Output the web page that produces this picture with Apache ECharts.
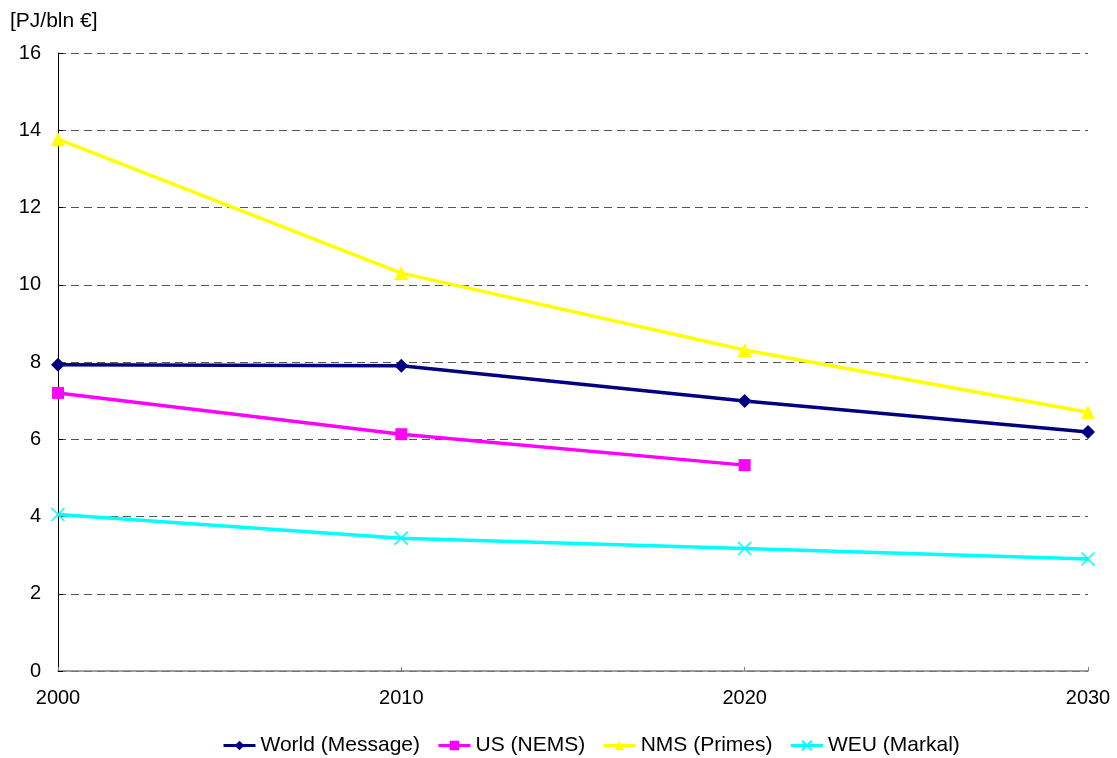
<!DOCTYPE html>
<html>
<head>
<meta charset="utf-8">
<style>
  html, body { margin: 0; padding: 0; background: #fff; }
  #chart { width: 1117px; height: 758px; }
</style>
<script src="https://cdn.jsdelivr.net/npm/echarts@6/dist/echarts.min.js"></script>
</head>
<body>
<div id="chart"></div>
<script>
// Energy intensity by model, PJ per billion euro
const years = ['2000', '2010', '2020', '2030'];
const worldMessage = [7.93, 7.9, 6.99, 6.19];
const usNems = [7.2, 6.13, 5.33, null];
const nmsPrimes = [13.77, 10.3, 8.31, 6.7];
const weuMarkal = [4.05, 3.44, 3.17, 2.9];
const yTicks = { min: 0, max: 16, interval: 2 };

const font = 'Liberation Sans, Arial, sans-serif';
const crossPath = 'path://M0,0L10,10M10,0L0,10';

function lineSeries(name, data, color, symbol, size, extra) {
  return Object.assign({
    name: name,
    type: 'line',
    data: data,
    symbol: symbol,
    symbolSize: size,
    showSymbol: true,
    connectNulls: false,
    lineStyle: { color: color, width: 3.5 },
    itemStyle: { color: color, borderColor: color, borderWidth: 0 },
    emphasis: { disabled: true },
    animation: false
  }, extra || {});
}

const chart = echarts.init(document.getElementById('chart'), null, { renderer: 'canvas' });
chart.setOption({
  backgroundColor: '#ffffff',
  animation: false,
  title: {
    text: '[PJ/bln €]',
    left: 5,
    top: 6,
    textStyle: { fontFamily: font, fontSize: 21, fontWeight: 'normal', color: '#000' }
  },
  grid: { left: 58, right: 29, top: 53, bottom: 87, containLabel: false },
  legend: {
    top: 730,
    left: 217,
    itemWidth: 32,
    itemHeight: 12,
    itemGap: 17,
    lineStyle: { width: 3 },
    textStyle: { fontFamily: font, fontSize: 21, color: '#000' },
    data: ['World (Message)', 'US (NEMS)', 'NMS (Primes)', 'WEU (Markal)']
  },
  xAxis: {
    type: 'category',
    data: years,
    boundaryGap: false,
    axisLine: { lineStyle: { color: '#808080', width: 1.5 } },
    axisTick: { show: true, inside: true, length: 4, lineStyle: { color: '#808080' } },
    axisLabel: { fontFamily: font, fontSize: 20, color: '#000', margin: 17 },
    splitLine: { show: false }
  },
  yAxis: {
    type: 'value',
    min: yTicks.min,
    max: yTicks.max,
    interval: yTicks.interval,
    axisLine: { show: true, lineStyle: { color: '#000', width: 1 } },
    axisTick: { show: true, length: 5, inside: true, lineStyle: { color: '#000' } },
    axisLabel: { fontFamily: font, fontSize: 20, color: '#000', margin: 17 },
    splitLine: { show: true, lineStyle: { color: '#555', type: [8, 5], width: 1 } }
  },
  series: [
    lineSeries('World (Message)', worldMessage, '#000080', 'diamond', 14),
    lineSeries('US (NEMS)', usNems, '#ff00ff', 'rect', 12),
    lineSeries('NMS (Primes)', nmsPrimes, '#ffff00', 'triangle', 14),
    lineSeries('WEU (Markal)', weuMarkal, '#00ffff', crossPath, 13, {
      itemStyle: { color: 'none', borderColor: '#00ffff', borderWidth: 1.5 }
    })
  ]
});
</script>
</body>
</html>
